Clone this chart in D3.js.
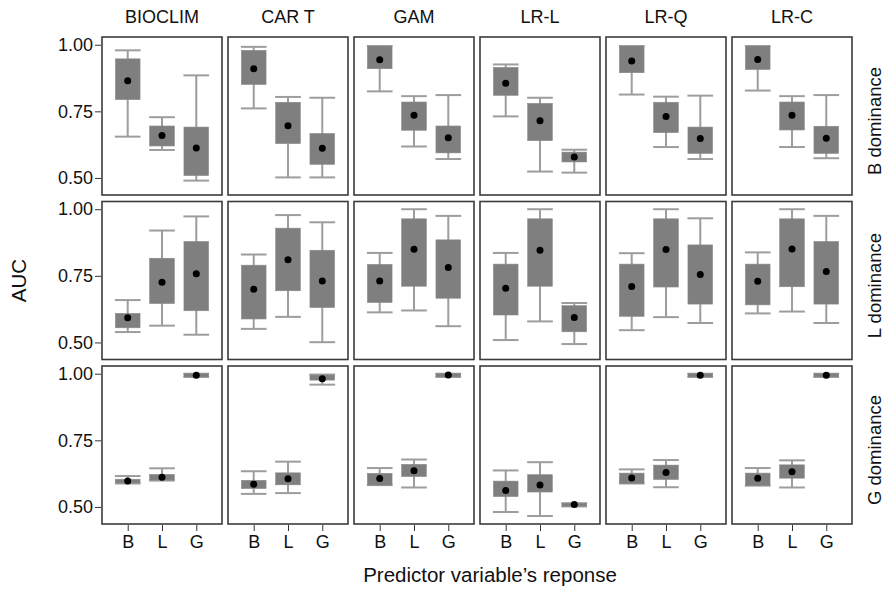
<!DOCTYPE html>
<html>
<head>
<meta charset="utf-8">
<script src="https://cdn.jsdelivr.net/npm/d3@7/dist/d3.min.js"></script>
<style>
  html, body { margin: 0; padding: 0; background: #fff; }
  svg text { font-family: "Liberation Sans", Arial, sans-serif; fill: #111; }
</style>
</head>
<body>
<svg id="chart" width="888" height="594"></svg>
<script>
// Facet columns (models), facet rows (dominance scenario) and x categories
const models = ["BIOCLIM", "CAR T", "GAM", "LR-L", "LR-Q", "LR-C"];
const dominance = ["B dominance", "L dominance", "G dominance"];
const responses = ["B", "L", "G"];
const yTicks = [0.50, 0.75, 1.00];

// Each entry: [lower whisker, lower hinge, upper hinge, upper whisker, mean] for B, L, G
const bDominance = [
  [[0.655, 0.794, 0.947, 0.979, 0.865], [0.605, 0.620, 0.695, 0.728, 0.659], [0.490, 0.509, 0.691, 0.885, 0.612]],
  [[0.761, 0.851, 0.979, 0.992, 0.910], [0.502, 0.629, 0.784, 0.804, 0.696], [0.502, 0.551, 0.667, 0.801, 0.611]],
  [[0.825, 0.910, 0.995, 0.995, 0.944], [0.618, 0.679, 0.785, 0.807, 0.735], [0.571, 0.594, 0.695, 0.811, 0.651]],
  [[0.731, 0.810, 0.915, 0.926, 0.855], [0.524, 0.640, 0.780, 0.801, 0.715], [0.520, 0.560, 0.597, 0.606, 0.579]],
  [[0.813, 0.895, 0.995, 0.995, 0.939], [0.616, 0.670, 0.784, 0.805, 0.731], [0.571, 0.592, 0.691, 0.809, 0.648]],
  [[0.828, 0.907, 0.995, 0.995, 0.945], [0.616, 0.680, 0.785, 0.807, 0.735], [0.574, 0.592, 0.694, 0.811, 0.649]]
];
const lDominance = [
  [[0.539, 0.555, 0.609, 0.659, 0.593], [0.563, 0.646, 0.816, 0.920, 0.726], [0.529, 0.619, 0.879, 0.973, 0.758]],
  [[0.551, 0.588, 0.790, 0.830, 0.700], [0.596, 0.694, 0.929, 0.978, 0.810], [0.501, 0.631, 0.846, 0.951, 0.731]],
  [[0.613, 0.650, 0.793, 0.836, 0.731], [0.620, 0.711, 0.964, 1.000, 0.850], [0.561, 0.666, 0.885, 0.975, 0.781]],
  [[0.509, 0.603, 0.794, 0.836, 0.703], [0.579, 0.711, 0.964, 1.000, 0.846], [0.494, 0.540, 0.638, 0.648, 0.594]],
  [[0.546, 0.598, 0.794, 0.835, 0.710], [0.595, 0.708, 0.964, 1.000, 0.849], [0.573, 0.644, 0.866, 0.966, 0.755]],
  [[0.609, 0.641, 0.794, 0.838, 0.730], [0.616, 0.709, 0.964, 1.000, 0.851], [0.573, 0.644, 0.879, 0.975, 0.766]]
];
const gDominance = [
  [[0.588, 0.590, 0.604, 0.616, 0.597], [0.599, 0.601, 0.622, 0.645, 0.611], [0.988, 0.988, 1.000, 1.000, 0.994]],
  [[0.549, 0.569, 0.600, 0.634, 0.585], [0.552, 0.583, 0.628, 0.670, 0.606], [0.959, 0.976, 0.995, 0.997, 0.981]],
  [[0.582, 0.582, 0.626, 0.646, 0.607], [0.573, 0.614, 0.660, 0.678, 0.636], [0.988, 0.988, 1.000, 1.000, 0.995]],
  [[0.481, 0.539, 0.597, 0.637, 0.562], [0.466, 0.556, 0.621, 0.668, 0.582], [0.502, 0.503, 0.514, 0.514, 0.509]],
  [[0.588, 0.588, 0.627, 0.641, 0.609], [0.574, 0.603, 0.657, 0.676, 0.629], [0.988, 0.988, 1.000, 1.000, 0.994]],
  [[0.580, 0.580, 0.627, 0.646, 0.608], [0.573, 0.608, 0.658, 0.675, 0.632], [0.988, 0.988, 1.000, 1.000, 0.994]]
];
const rowData = [bDominance, lDominance, gDominance];

// Layout
const gridLeft = 102, gridTop = 37;
const panelW = 120, panelH = 158;
const gapX = 6, gapY = 6.5;

const svg = d3.select("#chart");

const x = d3.scalePoint().domain(responses).range([0, panelW]).padding(0.75);
const y = d3.scaleLinear().domain([0.436, 1.029]).range([panelH, 0]);
const boxW = x.step() * 0.72;
const capW = boxW + 1;

const boxFill = "#7f7f7f";
const whiskerColor = "#9d9d9d";
const frameColor = "#3b3b3b";

rowData.forEach((rows, r) => {
  rows.forEach((stats, c) => {
    const g = svg.append("g")
      .attr("transform", `translate(${gridLeft + c * (panelW + gapX)},${gridTop + r * (panelH + gapY)})`);

    const box = g.selectAll("g.box").data(responses.map((k, i) => ({ k, s: stats[i] })))
      .enter().append("g").attr("class", "box")
      .attr("transform", d => `translate(${x(d.k)},0)`);

    // whisker stem
    box.append("line")
      .attr("x1", 0).attr("x2", 0)
      .attr("y1", d => y(d.s[0])).attr("y2", d => y(d.s[3]))
      .attr("stroke", whiskerColor).attr("stroke-width", 2);
    // whisker caps
    [0, 3].forEach(idx => {
      box.append("line")
        .attr("x1", -capW / 2).attr("x2", capW / 2)
        .attr("y1", d => y(d.s[idx])).attr("y2", d => y(d.s[idx]))
        .attr("stroke", whiskerColor).attr("stroke-width", 2);
    });
    // hinge box
    box.append("rect")
      .attr("x", -boxW / 2).attr("width", boxW)
      .attr("y", d => y(d.s[2]))
      .attr("height", d => Math.max(1, y(d.s[1]) - y(d.s[2])))
      .attr("fill", boxFill)
      .attr("stroke", "#8a8a8a").attr("stroke-width", 0.6);
    // mean point
    box.append("circle")
      .attr("cx", 0).attr("cy", d => y(d.s[4])).attr("r", 3.5)
      .attr("fill", "#000");

    // panel frame
    g.append("rect")
      .attr("x", 0).attr("y", 0).attr("width", panelW).attr("height", panelH)
      .attr("fill", "none").attr("stroke", frameColor).attr("stroke-width", 1.6);

    // left axis on the first column
    if (c === 0) {
      const ax = g.append("g")
        .call(d3.axisLeft(y).tickValues(yTicks).tickFormat(d3.format(".2f")).tickSize(6).tickPadding(3));
      ax.select(".domain").remove();
      ax.selectAll("line").attr("stroke", "#333").attr("transform", "translate(-1,0)");
      ax.selectAll("text").attr("font-size", 18).attr("fill", "#111")
        .attr("font-family", "Liberation Sans, Arial, sans-serif");
    }
    // bottom axis on the last row
    if (r === rowData.length - 1) {
      const ax = g.append("g").attr("transform", `translate(0,${panelH})`)
        .call(d3.axisBottom(x).tickSize(6).tickPadding(5));
      ax.select(".domain").remove();
      ax.selectAll("line").attr("stroke", "#333").attr("transform", "translate(0,1)");
      ax.selectAll("text").attr("font-size", 18).attr("fill", "#111")
        .attr("font-family", "Liberation Sans, Arial, sans-serif");
    }
    // column strip titles
    if (r === 0) {
      g.append("text")
        .attr("x", panelW / 2).attr("y", -14)
        .attr("text-anchor", "middle").attr("font-size", 18)
        .text(models[c]);
    }
    // row strip titles
    if (c === models.length - 1) {
      g.append("text")
        .attr("transform", `translate(${panelW + 29},${panelH / 2 + 5}) rotate(-90)`)
        .attr("text-anchor", "middle").attr("font-size", 18.5)
        .text(dominance[r]);
    }
  });
});

// Axis titles
const gridBottom = gridTop + 3 * panelH + 2 * gapY;
svg.append("text")
  .attr("transform", `translate(26,${(gridTop + gridBottom) / 2}) rotate(-90)`)
  .attr("text-anchor", "middle").attr("font-size", 20.5)
  .text("AUC");
svg.append("text")
  .attr("x", 490).attr("y", 582)
  .attr("text-anchor", "middle").attr("font-size", 20.5)
  .text("Predictor variable\u2019s reponse");
</script>
</body>
</html>
